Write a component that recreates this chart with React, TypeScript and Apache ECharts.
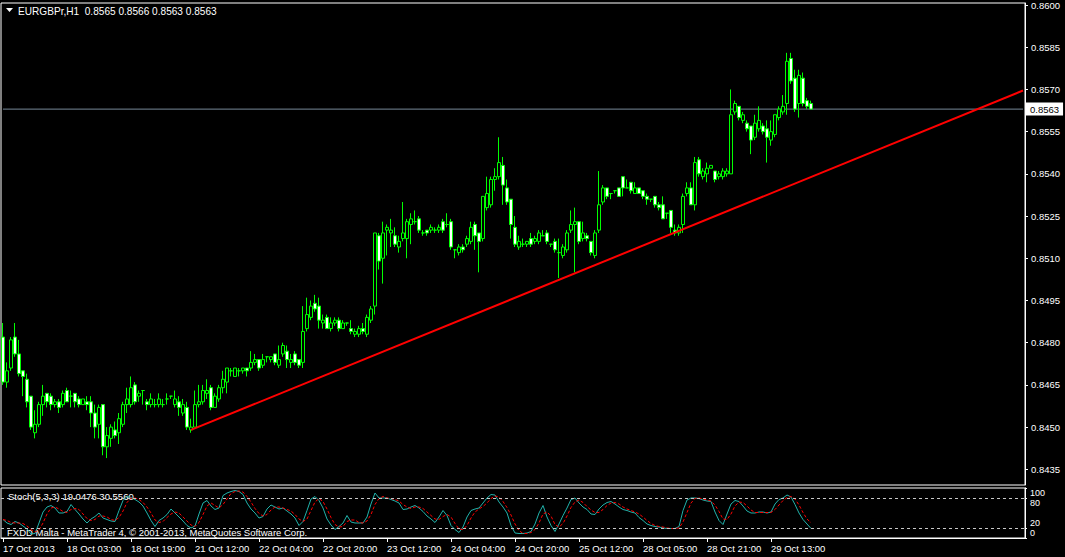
import React, { useEffect, useRef } from 'react';
import * as echarts from 'echarts';

// ---- Data (EURGBP H1) ----
const opens = [
  0.8482,0.8466,0.8471,0.8482,0.8476,0.8470,0.8467,0.8461,0.8448,0.8451,
  0.8458,0.8462,0.8461,0.8458,0.8459,0.8458,0.8463,0.8461,0.8462,0.8460,
  0.8458,0.8459,0.8459,0.8455,0.8451,0.8458,0.8443,0.8446,0.8449,0.8448,
  0.8451,0.8458,0.8458,0.8465,0.8461,0.8463,0.8459,0.8458,0.8458,0.8458,
  0.8458,0.8460,0.8461,0.8458,0.8459,0.8455,0.8457,0.8449,0.8450,0.8458,
  0.8459,0.8462,0.8464,0.8457,0.8460,0.8464,0.8466,0.8470,0.8468,0.8470,
  0.8470,0.8471,0.8471,0.8473,0.8474,0.8472,0.8475,0.8474,0.8476,0.8472,
  0.8476,0.8477,0.8473,0.8476,0.8474,0.8473,0.8485,0.8489,0.8494,0.8493,
  0.8487,0.8489,0.8485,0.8487,0.8488,0.8485,0.8487,0.8485,0.8483,0.8483,
  0.8485,0.8483,0.8488,0.8493,0.8518,0.8510,0.8520,0.8519,0.8518,0.8514,
  0.8517,0.8517,0.8522,0.8523,0.8524,0.8519,0.8520,0.8520,0.8520,0.8520,
  0.8523,0.8522,0.8523,0.8513,0.8512,0.8514,0.8515,0.8516,0.8522,0.8519,
  0.8517,0.8528,0.8529,0.8538,0.8539,0.8543,0.8535,0.8531,0.8521,0.8514,
  0.8515,0.8515,0.8517,0.8516,0.8516,0.8518,0.8519,0.8515,0.8516,0.8512,
  0.8511,0.8513,0.8520,0.8522,0.8523,0.8517,0.8518,0.8516,0.8511,0.8520,
  0.8530,0.8535,0.8533,0.8534,0.8535,0.8539,0.8535,0.8537,0.8533,0.8535,
  0.8534,0.8532,0.8531,0.8532,0.8529,0.8529,0.8526,0.8527,0.8520,0.8519,
  0.8522,0.8533,0.8535,0.8529,0.8545,0.8539,0.8540,0.8542,0.8541,0.8539,
  0.8539,0.8540,0.8540,0.8562,0.8564,0.8559,0.8558,0.8557,0.8553,0.8556,
  0.8557,0.8556,0.8552,0.8554,0.8560,0.8562,0.8565,0.8581,0.8574,0.8565,
  0.8574,0.8566,0.8565,
];
const highs = [
  0.8487,0.8473,0.8482,0.8487,0.8481,0.8470,0.8469,0.8461,0.8456,0.8459,
  0.8465,0.8462,0.8462,0.8460,0.8460,0.8463,0.8464,0.8463,0.8462,0.8461,
  0.8460,0.8461,0.8461,0.8458,0.8458,0.8458,0.8450,0.8451,0.8452,0.8455,
  0.8459,0.8464,0.8468,0.8466,0.8463,0.8463,0.8460,0.8462,0.8460,0.8462,
  0.8460,0.8462,0.8461,0.8463,0.8461,0.8460,0.8459,0.8453,0.8463,0.8465,
  0.8465,0.8467,0.8465,0.8462,0.8465,0.8470,0.8471,0.8471,0.8471,0.8471,
  0.8471,0.8471,0.8477,0.8476,0.8474,0.8476,0.8475,0.8475,0.8476,0.8479,
  0.8480,0.8479,0.8476,0.8477,0.8474,0.8493,0.8496,0.8495,0.8497,0.8496,
  0.8490,0.8490,0.8489,0.8489,0.8489,0.8488,0.8487,0.8488,0.8485,0.8486,
  0.8487,0.8490,0.8493,0.8519,0.8519,0.8523,0.8522,0.8524,0.8521,0.8518,
  0.8530,0.8524,0.8526,0.8527,0.8525,0.8520,0.8520,0.8522,0.8521,0.8522,
  0.8524,0.8526,0.8524,0.8513,0.8515,0.8515,0.8518,0.8523,0.8523,0.8519,
  0.8532,0.8539,0.8539,0.8542,0.8553,0.8546,0.8538,0.8531,0.8525,0.8518,
  0.8517,0.8516,0.8519,0.8518,0.8520,0.8520,0.8520,0.8515,0.8517,0.8517,
  0.8515,0.8520,0.8527,0.8528,0.8523,0.8523,0.8519,0.8516,0.8520,0.8541,
  0.8536,0.8535,0.8533,0.8534,0.8535,0.8539,0.8538,0.8537,0.8537,0.8535,
  0.8534,0.8533,0.8531,0.8532,0.8530,0.8532,0.8526,0.8527,0.8522,0.8522,
  0.8533,0.8537,0.8537,0.8546,0.8546,0.8542,0.8544,0.8543,0.8541,0.8541,
  0.8542,0.8542,0.8570,0.8566,0.8564,0.8562,0.8559,0.8557,0.8561,0.8564,
  0.8558,0.8559,0.8559,0.8561,0.8564,0.8568,0.8583,0.8583,0.8577,0.8577,
  0.8576,0.8567,0.8566,
];
const lows = [
  0.8465,0.8464,0.8470,0.8475,0.8468,0.8461,0.8457,0.8449,0.8446,0.8450,
  0.8454,0.8457,0.8456,0.8457,0.8455,0.8457,0.8459,0.8457,0.8457,0.8457,
  0.8458,0.8456,0.8450,0.8446,0.8446,0.8440,0.8439,0.8443,0.8446,0.8444,
  0.8450,0.8455,0.8457,0.8458,0.8459,0.8458,0.8456,0.8457,0.8457,0.8457,
  0.8457,0.8458,0.8460,0.8457,0.8454,0.8454,0.8449,0.8448,0.8450,0.8457,
  0.8458,0.8460,0.8456,0.8457,0.8459,0.8462,0.8462,0.8468,0.8468,0.8468,
  0.8469,0.8468,0.8470,0.8472,0.8470,0.8471,0.8473,0.8473,0.8472,0.8471,
  0.8475,0.8471,0.8471,0.8472,0.8471,0.8471,0.8484,0.8488,0.8491,0.8485,
  0.8485,0.8485,0.8484,0.8486,0.8484,0.8485,0.8486,0.8483,0.8482,0.8482,
  0.8483,0.8482,0.8487,0.8490,0.8506,0.8501,0.8511,0.8514,0.8514,0.8512,
  0.8516,0.8510,0.8515,0.8522,0.8519,0.8518,0.8518,0.8519,0.8519,0.8519,
  0.8519,0.8521,0.8513,0.8510,0.8511,0.8512,0.8514,0.8515,0.8513,0.8505,
  0.8516,0.8527,0.8528,0.8534,0.8538,0.8529,0.8529,0.8517,0.8514,0.8513,
  0.8514,0.8514,0.8514,0.8515,0.8515,0.8518,0.8515,0.8514,0.8512,0.8503,
  0.8510,0.8512,0.8519,0.8505,0.8515,0.8516,0.8516,0.8511,0.8510,0.8519,
  0.8529,0.8531,0.8531,0.8533,0.8532,0.8532,0.8535,0.8533,0.8533,0.8533,
  0.8531,0.8529,0.8530,0.8528,0.8527,0.8524,0.8524,0.8519,0.8518,0.8518,
  0.8519,0.8532,0.8529,0.8527,0.8539,0.8538,0.8537,0.8542,0.8537,0.8538,
  0.8538,0.8539,0.8540,0.8561,0.8559,0.8558,0.8555,0.8547,0.8552,0.8555,
  0.8554,0.8544,0.8550,0.8553,0.8559,0.8561,0.8561,0.8572,0.8562,0.8560,
  0.8564,0.8563,0.8563,
];
const closes = [
  0.8466,0.8470,0.8481,0.8476,0.8469,0.8468,0.8459,0.8450,0.8451,0.8458,
  0.8461,0.8459,0.8458,0.8459,0.8457,0.8462,0.8459,0.8461,0.8459,0.8458,
  0.8460,0.8458,0.8455,0.8450,0.8457,0.8443,0.8447,0.8450,0.8447,0.8453,
  0.8458,0.8460,0.8464,0.8459,0.8462,0.8463,0.8458,0.8460,0.8458,0.8460,
  0.8458,0.8460,0.8461,0.8460,0.8457,0.8458,0.8450,0.8450,0.8458,0.8459,
  0.8463,0.8463,0.8457,0.8461,0.8464,0.8467,0.8471,0.8470,0.8471,0.8470,
  0.8471,0.8470,0.8473,0.8474,0.8471,0.8474,0.8475,0.8475,0.8473,0.8474,
  0.8479,0.8474,0.8474,0.8473,0.8472,0.8484,0.8490,0.8493,0.8492,0.8488,
  0.8488,0.8485,0.8487,0.8488,0.8485,0.8487,0.8487,0.8484,0.8484,0.8485,
  0.8484,0.8489,0.8492,0.8519,0.8509,0.8519,0.8521,0.8520,0.8515,0.8516,
  0.8519,0.8523,0.8524,0.8523,0.8520,0.8519,0.8519,0.8521,0.8520,0.8521,
  0.8520,0.8522,0.8514,0.8513,0.8514,0.8513,0.8517,0.8521,0.8518,0.8516,
  0.8532,0.8533,0.8538,0.8539,0.8544,0.8536,0.8530,0.8522,0.8515,0.8516,
  0.8515,0.8516,0.8515,0.8517,0.8519,0.8518,0.8516,0.8515,0.8513,0.8512,
  0.8514,0.8519,0.8522,0.8523,0.8516,0.8519,0.8517,0.8512,0.8519,0.8529,
  0.8535,0.8532,0.8533,0.8534,0.8532,0.8535,0.8535,0.8534,0.8535,0.8533,
  0.8532,0.8531,0.8531,0.8529,0.8528,0.8524,0.8526,0.8521,0.8519,0.8521,
  0.8532,0.8535,0.8529,0.8544,0.8540,0.8541,0.8542,0.8543,0.8538,0.8540,
  0.8541,0.8541,0.8561,0.8565,0.8560,0.8561,0.8556,0.8552,0.8558,0.8559,
  0.8555,0.8553,0.8555,0.8561,0.8563,0.8564,0.8580,0.8573,0.8563,0.8575,
  0.8565,0.8564,0.8563,
];

// Stochastic (5,3,3): main (%K) and signal (%D)
const stochK = [
  37,30,27,33,30,24,18,8,9,30,
  52,62,65,60,50,50,53,67,57,48,
  38,30,38,43,50,40,37,34,33,55,
  75,83,81,77,72,64,50,35,23,35,
  40,47,58,50,42,34,25,20,24,48,
  70,75,64,57,60,85,90,93,95,93,
  87,70,58,50,40,43,58,66,62,58,
  60,54,48,40,25,33,55,78,83,75,
  60,38,26,17,23,30,45,32,30,30,
  30,42,68,90,80,80,80,77,74,70,
  57,58,62,65,60,53,44,38,31,42,
  55,45,25,17,11,22,42,55,58,60,
  70,80,87,86,72,62,50,25,10,9,
  9,10,13,28,50,65,42,25,13,28,
  45,60,77,80,70,62,57,48,47,58,
  66,71,73,68,62,57,55,52,50,41,
  35,28,25,23,22,20,19,19,19,23,
  55,76,80,80,79,76,74,73,52,35,
  27,48,68,75,73,64,54,50,50,52,
  52,50,52,68,77,80,86,82,67,50,
  37,28,19.0476,
];
const stochD = [
  37,35,31,30,30,29,24,17,12,16,
  30,48,60,62,58,53,51,57,59,57,
  48,39,35,37,44,44,42,37,35,41,
  54,71,80,80,77,71,62,50,36,31,
  33,41,48,52,50,42,34,26,23,31,
  47,64,70,65,60,67,78,89,93,94,
  92,83,72,59,49,44,47,56,62,62,
  60,57,54,47,38,33,38,55,72,79,
  73,58,41,27,22,23,33,36,36,31,
  30,34,47,67,79,83,80,79,77,74,
  67,62,59,62,62,59,52,45,38,37,
  43,47,42,29,18,17,25,40,52,58,
  63,70,79,84,82,73,61,46,28,15,
  9,9,11,17,30,48,52,44,27,22,
  29,44,61,72,76,71,63,56,51,51,
  57,65,70,71,68,62,58,55,52,48,
  42,35,29,25,23,22,20,19,19,20,
  32,51,70,79,80,78,76,74,66,53,
  38,37,48,64,72,71,64,56,51,51,
  51,51,51,57,66,75,81,83,78,66,
  51,38,30.556,
];

const timeTickLabels = [
  '17 Oct 2013', '18 Oct 03:00', '18 Oct 19:00', '21 Oct 12:00', '22 Oct 04:00',
  '22 Oct 20:00', '23 Oct 12:00', '24 Oct 04:00', '24 Oct 20:00', '25 Oct 12:00',
  '28 Oct 05:00', '28 Oct 21:00', '29 Oct 13:00',
];
const priceTicks = [0.8435, 0.845, 0.8465, 0.848, 0.8495, 0.851, 0.8525, 0.854, 0.8555, 0.857, 0.8585, 0.86];
const stochInnerTicks = [20, 80];
const stochOuterTicks = [0, 100];
const stochLevels = [80, 20];
const trendStart = [47, 0.8449];
const trendEnd = [255, 0.85696];

const SYMBOL = 'EURGBPr,H1';
const COPYRIGHT = 'FXDD Malta - MetaTrader 4, \u00a9 2001-2013, MetaQuotes Software Corp.';
const TOTAL_SLOTS = 256; // visible bar slots, including empty space on the right
const LABEL_EVERY = 16;

const FONT = 'Liberation Sans';
const FS = 9.5;
const TITLE_FS = 10.1;

export default function App() {
  const ref = useRef<HTMLDivElement>(null);

  useEffect(() => {
    if (!ref.current) return;
    const chart = echarts.init(ref.current, null, { renderer: 'svg' });
    const categories = Array.from({ length: TOTAL_SLOTS }, (_, i) => String(i));
    const candles = opens.map((o, i) => [o, closes[i], lows[i], highs[i]]);
    const n = opens.length;
    const last = n - 1;
    const lastClose = closes[last];
    const titleText = `${SYMBOL}  ${opens[last].toFixed(4)} ${highs[last].toFixed(4)} ${lows[last].toFixed(4)} ${closes[last].toFixed(4)}`;
    const stochText = `Stoch(5,3,3) ${stochK[last].toFixed(4)} ${stochD[last].toFixed(4)}`;
    const isLabelIdx = (idx: number) => idx % LABEL_EVERY === 0 && idx / LABEL_EVERY < timeTickLabels.length;
    const txt = (s: string, fs: number) => ({ text: s, fill: '#ffffff', fontSize: fs, fontFamily: FONT, verticalAlign: 'middle' });

    const stochAxis = (values: number[], extra: any) => ({
      type: 'value', gridIndex: 1, position: 'right', min: 0, max: 100,
      axisLine: { show: true, lineStyle: { color: '#ffffff' } },
      axisTick: { show: true, customValues: values, length: 2, lineStyle: { color: '#ffffff' } },
      axisLabel: {
        show: true, customValues: values, color: '#ffffff', fontSize: 9, fontFamily: FONT, margin: 5,
        lineHeight: 9.6, showMinLabel: true, showMaxLabel: true,
        verticalAlignMinLabel: 'bottom', verticalAlignMaxLabel: 'top', ...extra,
      },
      splitLine: { show: false },
    });

    const option: any = {
      animation: false,
      backgroundColor: '#000000',
      textStyle: { fontFamily: FONT },
      grid: [
        { left: 1, top: 2, width: 1024, height: 483, show: true, borderColor: '#ffffff', borderWidth: 1, backgroundColor: '#000000' },
        { left: 1, top: 488, width: 1024, height: 50, show: true, borderColor: '#ffffff', borderWidth: 1, backgroundColor: '#000000' },
      ],
      xAxis: [
        { type: 'category', gridIndex: 0, data: categories, boundaryGap: true, show: false },
        {
          type: 'category', gridIndex: 1, data: categories, boundaryGap: true,
          axisLine: { show: true, lineStyle: { color: '#ffffff', width: 1 } },
          axisTick: { show: true, alignWithLabel: true, interval: (idx: number) => isLabelIdx(idx), length: 4, lineStyle: { color: '#ffffff' } },
          axisLabel: {
            show: true, interval: (idx: number) => isLabelIdx(idx),
            formatter: (_v: string, idx: number) => (isLabelIdx(idx) ? timeTickLabels[idx / LABEL_EVERY] : ''),
            align: 'left', color: '#ffffff', fontSize: FS, fontFamily: FONT, margin: 5,
          },
          splitLine: { show: false },
        },
      ],
      yAxis: [
        {
          type: 'value', gridIndex: 0, position: 'right', min: 0.842943, max: 0.860071,
          axisLine: { show: true, lineStyle: { color: '#ffffff' } },
          axisTick: { show: true, customValues: priceTicks, length: 3, lineStyle: { color: '#ffffff' } },
          axisLabel: {
            show: true, customValues: priceTicks, formatter: (v: number) => v.toFixed(4),
            color: '#ffffff', fontSize: FS, fontFamily: FONT, margin: 6, showMaxLabel: true, showMinLabel: true,
          },
          splitLine: { show: false },
        },
        stochAxis(stochInnerTicks, {}),
        stochAxis(stochOuterTicks, {}),
      ],
      series: [
        {
          type: 'candlestick', xAxisIndex: 0, yAxisIndex: 0, data: candles, barWidth: 3,
          itemStyle: {
            color: '#000000', color0: '#ffffff',
            borderColor: '#00ff00', borderColor0: '#00ff00', borderColorDoji: '#00ff00', borderWidth: 1,
          },
        },
        {
          // bid line at the last close
          type: 'line', xAxisIndex: 0, yAxisIndex: 0,
          data: [[0, lastClose], [TOTAL_SLOTS - 1, lastClose]],
          symbol: 'none', lineStyle: { color: '#778899', width: 1 }, z: 1,
          endLabel: {
            show: true, formatter: () => lastClose.toFixed(4), distance: 3,
            color: '#000000', backgroundColor: '#ffffff', padding: [2, 4, 1, 4],
            fontSize: FS, fontFamily: FONT,
          },
        },
        {
          type: 'line', xAxisIndex: 0, yAxisIndex: 0, data: [trendStart, trendEnd],
          symbol: 'none', lineStyle: { color: '#ff0000', width: 2 }, z: 5,
        },
        {
          type: 'line', xAxisIndex: 1, yAxisIndex: 1, data: stochK,
          symbol: 'none', lineStyle: { color: '#20b2aa', width: 1 },
          markLine: {
            silent: true, symbol: ['none', 'none'], animation: false,
            data: stochLevels.map((v) => ({ yAxis: v })),
            lineStyle: { color: '#c8c8c8', width: 1, type: [3, 3] },
            label: { show: false },
          },
        },
        {
          type: 'line', xAxisIndex: 1, yAxisIndex: 1, data: stochD,
          symbol: 'none', lineStyle: { color: '#ff0000', width: 1, type: [3, 2] },
        },
      ],
      graphic: [
        { type: 'polygon', silent: true, shape: { points: [[6, 8], [13, 8], [9.5, 12]] }, style: { fill: '#ffffff' } },
        { type: 'text', silent: true, x: 18, y: 11, style: txt(titleText, TITLE_FS) },
        { type: 'text', silent: true, x: 8, y: 496, style: txt(stochText, FS) },
        { type: 'text', silent: true, x: 7, y: 532, style: txt(COPYRIGHT, FS) },
      ],
    };

    chart.setOption(option);
    return () => chart.dispose();
  }, []);

  return (
    <div
      ref={ref}
      style={{ position: 'fixed', left: 0, top: 0, width: 1065, height: 557, background: '#000000' }}
    />
  );
}
